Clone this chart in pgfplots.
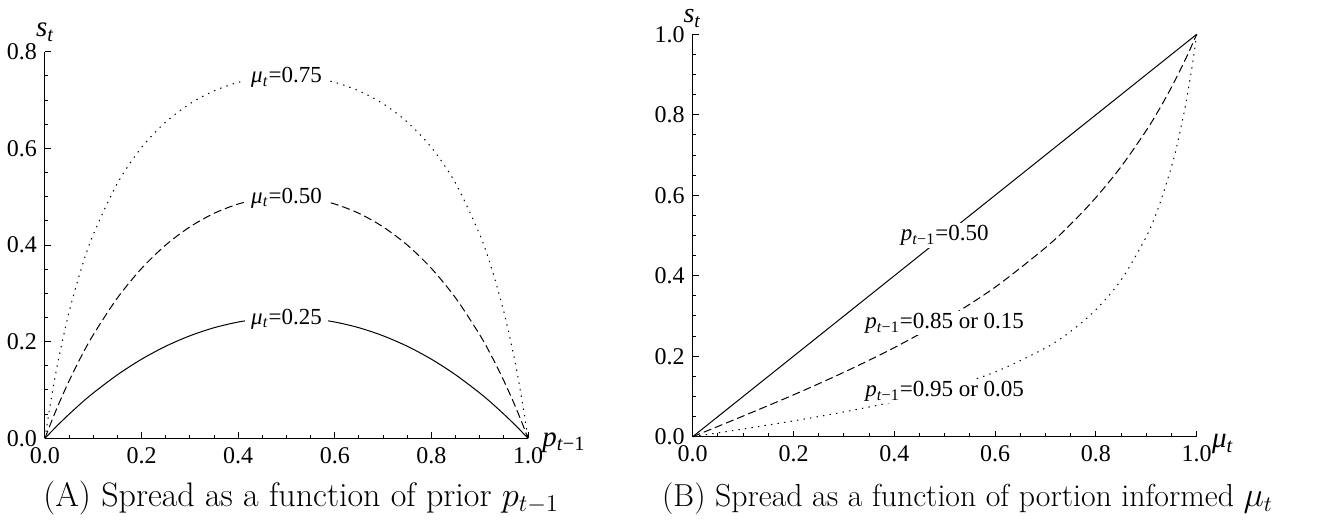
\documentclass[border=0pt]{standalone}
\usepackage{fontspec}
\newfontfamily\tms{Liberation Serif}
\usepackage{pgfplots}
\pgfplotsset{compat=1.18}

% Mathematica-like labels in Times-metric font
\newcommand{\mut}{\textit{μ}\textsubscript{\textit{t}}}
\newcommand{\ptm}{\textit{p}\textsubscript{\textit{t}−1}}

\tikzset{
  lab/.style={fill=white, inner xsep=3pt, inner ysep=1pt, font=\tms\fontsize{11.5}{13}\selectfont},
  axlab/.style={font=\tms\fontsize{14.5}{16}\selectfont, anchor=base west, inner sep=0pt},
  captxt/.style={anchor=base west, inner sep=0pt},
}
\pgfplotsset{spr/.style={
  scale only axis, clip=false,
  axis lines=left, x axis line style={-}, y axis line style={-},
  axis line style={line width=0.5pt},
  xmin=0, xmax=1, ymin=0,
  tick align=inside, tick style={black, line width=0.5pt},
  major tick length=3pt, minor tick length=1.7pt,
  minor x tick num=3, minor y tick num=3,
  xtick={0,0.2,0.4,0.6,0.8,1}, xticklabels={0.0,0.2,0.4,0.6,0.8,1.0},
  tick label style={font=\tms\fontsize{12}{14}\selectfont},
  xticklabel style={yshift=-1pt}, yticklabel style={xshift=-0.5pt},
  every axis plot/.append style={black, line width=0.5pt, no marks},
}}

\begin{document}
\begin{tikzpicture}
\useasboundingbox (-22.5pt,-41.35pt) rectangle (644pt,219.15pt);

% (A)
\begin{axis}[spr, at={(0pt,0pt)}, anchor=south west,
  width=241.5pt, height=193.3pt, ymax=0.8,
  ytick={0,0.2,0.4,0.6,0.8}, yticklabels={0.0,0.2,0.4,0.6,0.8}]
\addplot[dash pattern=on 0.7pt off 2.6pt, smooth] coordinates {
 (0,0) (0.005,0.0333) (0.01,0.0646) (0.02,0.1221) (0.03,0.1736) (0.05,0.2618)
 (0.075,0.3506) (0.1,0.4219) (0.15,0.5280) (0.2,0.6019) (0.25,0.6545) (0.3,0.6923)
 (0.35,0.7189) (0.4,0.7366) (0.45,0.7467) (0.5,0.75) (0.55,0.7467) (0.6,0.7366)
 (0.65,0.7189) (0.7,0.6923) (0.75,0.6545) (0.8,0.6019) (0.85,0.5280) (0.9,0.4219)
 (0.925,0.3506) (0.95,0.2618) (0.97,0.1736) (0.98,0.1221) (0.99,0.0646) (0.995,0.0333) (1,0)};
\addplot[dash pattern=on 4pt off 2pt, smooth] coordinates {
 (0,0) (0.005,0.0132) (0.01,0.0261) (0.02,0.0509) (0.03,0.0747) (0.05,0.1191)
 (0.075,0.1693) (0.1,0.2143) (0.15,0.2906) (0.2,0.3516) (0.25,0.4) (0.3,0.4375)
 (0.35,0.4655) (0.4,0.4848) (0.45,0.4962) (0.5,0.5) (0.55,0.4962) (0.6,0.4848)
 (0.65,0.4655) (0.7,0.4375) (0.75,0.4) (0.8,0.3516) (0.85,0.2906) (0.9,0.2143)
 (0.925,0.1693) (0.95,0.1191) (0.97,0.0747) (0.98,0.0509) (0.99,0.0261) (0.995,0.0132) (1,0)};
\addplot[solid, smooth] coordinates {
 (0,0) (0.01,0.0105) (0.02,0.0208) (0.03,0.0308) (0.05,0.0500)
 (0.075,0.0727) (0.1,0.0938) (0.15,0.1315) (0.2,0.1637) (0.25,0.1905) (0.3,0.2121)
 (0.35,0.2288) (0.4,0.2406) (0.45,0.2477) (0.5,0.25) (0.55,0.2477) (0.6,0.2406)
 (0.65,0.2288) (0.7,0.2121) (0.75,0.1905) (0.8,0.1637) (0.85,0.1315) (0.9,0.0938)
 (0.925,0.0727) (0.95,0.0500) (0.97,0.0308) (0.98,0.0208) (0.99,0.0105) (1,0)};
\node[lab] at (axis cs:0.5,0.746) {\mut=0.75};
\node[lab] at (axis cs:0.5,0.497) {\mut=0.50};
\node[lab] at (axis cs:0.5,0.247) {\mut=0.25};
\node[axlab, xshift=7pt, yshift=-4pt] at (rel axis cs:1,0) {\ptm};
\node[axlab, xshift=-4.6pt, yshift=7.5pt] at (rel axis cs:0,1) {\textit{s}\textsubscript{\textit{t}}};
\end{axis}

% (B)
\begin{axis}[spr, at={(323.85pt,0.8pt)}, anchor=south west,
  width=252pt, height=201.2pt, ymax=1,
  ytick={0,0.2,0.4,0.6,0.8,1}, yticklabels={0.0,0.2,0.4,0.6,0.8,1.0}]
\addplot[solid] coordinates {(0,0) (1,1)};
\addplot[dash pattern=on 4pt off 2pt, smooth] coordinates {
 (0,0) (0.1,0.0513) (0.2,0.1040) (0.3,0.1601) (0.4,0.2214) (0.5,0.2906) (0.6,0.3715)
 (0.7,0.4698) (0.75,0.5280) (0.8,0.5944) (0.85,0.6711) (0.9,0.7611) (0.925,0.8123)
 (0.95,0.8686) (0.975,0.9309) (0.99,0.9714) (1,1)};
\addplot[dash pattern=on 0.7pt off 2.6pt, smooth] coordinates {
 (0,0) (0.1,0.0192) (0.2,0.0393) (0.3,0.0615) (0.4,0.0873) (0.5,0.1191) (0.6,0.1609)
 (0.7,0.2205) (0.75,0.2618) (0.8,0.3156) (0.85,0.3894) (0.9,0.4972) (0.925,0.5726)
 (0.95,0.6711) (0.96,0.7195) (0.975,0.8055) (0.98,0.8385) (0.99,0.9126) (0.995,0.9544) (1,1)};
\node[lab] at (axis cs:0.5,0.5) {\ptm=0.50};
\node[lab] at (axis cs:0.5,0.282) {\ptm=0.85 or 0.15};
\node[lab] at (axis cs:0.5,0.113) {\ptm=0.95 or 0.05};
\node[axlab, xshift=7.5pt, yshift=-5.5pt] at (rel axis cs:1,0) {\mut};
\node[axlab, font=\tms\fontsize{14}{15}\selectfont, xshift=-4.8pt, yshift=5.8pt] at (rel axis cs:0,1) {\textit{s}\textsubscript{\textit{t}}};
\end{axis}

\node[captxt, font=\fontsize{17}{19}\selectfont] at (-1pt,-34.2pt)
  {(A) Spread as a function of prior $p_{t-1}$};
\node[captxt, font=\fontsize{15.9}{18}\selectfont] at (308.4pt,-34.2pt)
  {(B) Spread as a function of portion informed $\mu_t$};
\end{tikzpicture}
\end{document}
